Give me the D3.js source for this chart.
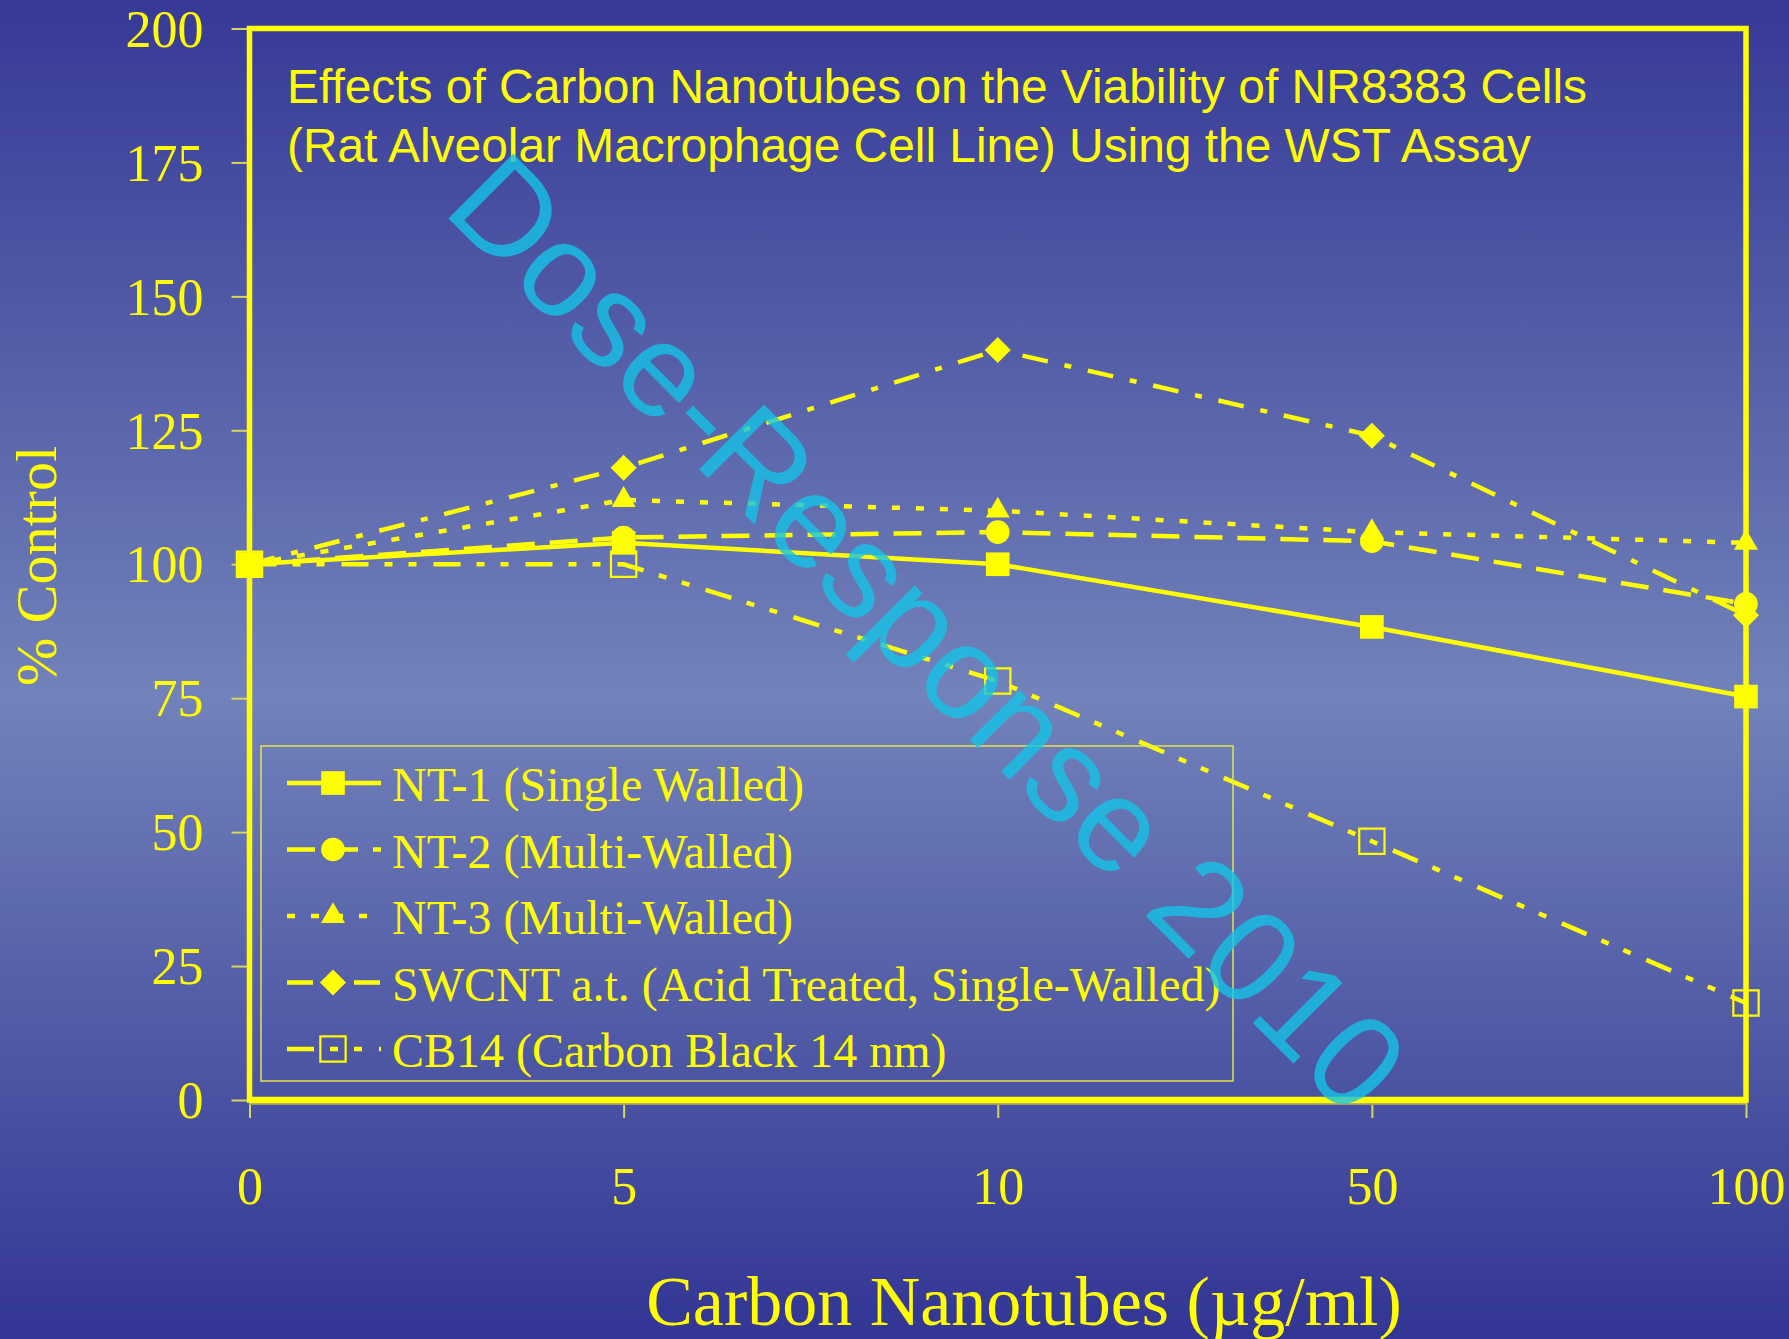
<!DOCTYPE html>
<html>
<head>
<meta charset="utf-8">
<script src="https://cdn.jsdelivr.net/npm/d3@7"></script>
<style>
    html, body { margin: 0; padding: 0; background: #35399a; }
    svg { display: block; }
</style>
</head>
<body>
<script>
// Dose levels (categorical x axis)
var doses = ["0", "5", "10", "50", "100"];
var yTicks = [0, 25, 50, 75, 100, 125, 150, 175, 200];

// % control values
var nt1   = [100, 104, 100, 88.3, 75.3];
var nt2   = [100, 105, 106, 104.3, 92.6];
var nt3   = [100, 112, 110, 106, 104];
var swcnt = [100, 118, 140, 124, 90.5];
var cb14  = [100, 100, 78.2, 48.3, 18.1];

var seriesNames = [
    "NT-1 (Single Walled)",
    "NT-2 (Multi-Walled)",
    "NT-3 (Multi-Walled)",
    "SWCNT a.t. (Acid Treated, Single-Walled)",
    "CB14 (Carbon Black 14 nm)"
];

var titleLines = [
    "Effects of Carbon Nanotubes on the Viability of NR8383 Cells",
    "(Rat Alveolar Macrophage Cell Line) Using the WST Assay"
];

function init(){
    var w = 1789;
    var h = 1339;
    var yellow = "#ffff00";
    var serif = "'Liberation Serif', 'Times New Roman', serif";
    var sans = "'Liberation Sans', Arial, sans-serif";

    var svg = d3.select("body")
                .append("svg")
                .attr("width", w)
                .attr("height", h);

    // background gradient (dark - light - dark)
    var grad = svg.append("defs").append("linearGradient")
                .attr("id", "bg")
                .attr("x1", 0).attr("y1", 0).attr("x2", 0).attr("y2", 1);
    grad.append("stop").attr("offset", "0%").attr("stop-color", "#363996");
    grad.append("stop").attr("offset", "52%").attr("stop-color", "#7282ba");
    grad.append("stop").attr("offset", "100%").attr("stop-color", "#323594");

    svg.append("rect")
        .attr("width", w)
        .attr("height", h)
        .attr("fill", "url(#bg)");

    // plot area
    var left = 249.5, right = 1746, top = 28.5, bottom = 1100;

    var x = d3.scalePoint()
                .domain(doses)
                .range([left, right]);

    var y = d3.scaleLinear()
                .domain([0, 200])
                .range([bottom, top]);

    // y axis ticks + labels
    var yAxis = d3.axisLeft(y)
                .tickValues(yTicks)
                .tickSize(18)
                .tickPadding(28);
    var gy = svg.append("g")
                .attr("transform", "translate(" + left + ",0)")
                .call(yAxis);
    gy.select(".domain").remove();
    gy.selectAll(".tick line").attr("stroke", "#d6d65a").attr("stroke-width", 2);
    gy.selectAll(".tick text")
        .attr("fill", yellow)
        .attr("dy", "0.34em")
        .style("font-family", serif)
        .style("font-size", "52px");

    // x axis ticks + labels
    var xAxis = d3.axisBottom(x)
                .tickSize(18)
                .tickPadding(50);
    var gx = svg.append("g")
                .attr("transform", "translate(0," + bottom + ")")
                .call(xAxis);
    gx.select(".domain").remove();
    gx.selectAll(".tick line").attr("stroke", "#d6d65a").attr("stroke-width", 2);
    gx.selectAll(".tick text")
        .attr("fill", yellow)
        .attr("dy", "0.7em")
        .style("font-family", serif)
        .style("font-size", "52px");

    // frame round the plot
    svg.append("rect")
        .attr("x", left)
        .attr("y", top)
        .attr("width", right - left)
        .attr("height", bottom - top)
        .attr("fill", "none")
        .attr("stroke", yellow)
        .attr("stroke-width", 5.5);
    svg.append("line")
        .attr("x1", left).attr("x2", right)
        .attr("y1", bottom + 4).attr("y2", bottom + 4)
        .attr("stroke", "#9a9a70")
        .attr("stroke-width", 2);
    svg.append("line")
        .attr("x1", left).attr("x2", right)
        .attr("y1", bottom).attr("y2", bottom)
        .attr("stroke", yellow)
        .attr("stroke-width", 6.5);

    // axis titles
    svg.append("text")
        .attr("x", 1024)
        .attr("y", 1325)
        .attr("text-anchor", "middle")
        .attr("fill", yellow)
        .style("font-family", serif)
        .style("font-size", "70px")
        .text("Carbon Nanotubes (\u00b5g/ml)");

    svg.append("text")
        .attr("transform", "translate(56,566) rotate(-90)")
        .attr("text-anchor", "middle")
        .attr("fill", yellow)
        .style("font-family", serif)
        .style("font-size", "58px")
        .text("% Control");

    // title inside the plot
    svg.selectAll(".title")
        .data(titleLines)
        .enter()
        .append("text")
        .attr("class", "title")
        .attr("x", 287)
        .attr("y", function(d, i){ return 103 + i * 59; })
        .attr("textLength", function(d, i){ return i == 0 ? 1300 : 1244; })
        .attr("lengthAdjust", "spacingAndGlyphs")
        .attr("fill", yellow)
        .style("font-family", sans)
        .style("font-size", "48px")
        .text(function(d){ return d; });

    // series setup
    var series = [
        {name: seriesNames[0], values: nt1,   dash: null,                 sym: d3.symbolSquare,   size: 560, rot: 0,  open: false},
        {name: seriesNames[1], values: nt2,   dash: "28,15",              sym: d3.symbolCircle,   size: 440, rot: 0,  open: false},
        {name: seriesNames[2], values: nt3,   dash: "8,16",               sym: d3.symbolTriangle, size: 250, rot: 0,  open: false},
        {name: seriesNames[3], values: swcnt, dash: "26,17,7,17",         sym: d3.symbolSquare,   size: 340, rot: 45, open: false},
        {name: seriesNames[4], values: cb14,  dash: "27,16,8,16,8,17",    sym: d3.symbolSquare,   size: 640, rot: 0,  open: true}
    ];

    var line = d3.line()
                .x(function(d, i){ return x(doses[i]); })
                .y(function(d){ return y(d); });

    // draw lines (CB14 first so the filled ones sit on top)
    var order = [4, 3, 2, 1, 0];
    order.forEach(function(k){
        var s = series[k];
        svg.append("path")
            .datum(s.values)
            .attr("d", line)
            .attr("fill", "none")
            .attr("stroke", yellow)
            .attr("stroke-width", 4.5)
            .attr("stroke-dasharray", s.dash);
    });

    order.forEach(function(k){
        var s = series[k];
        svg.selectAll(".m" + k)
            .data(s.values)
            .enter()
            .append("path")
            .attr("class", "m" + k)
            .attr("d", d3.symbol().type(s.sym).size(s.size))
            .attr("transform", function(d, i){
                return "translate(" + x(doses[i]) + "," + y(d) + ") rotate(" + s.rot + ")";
            })
            .attr("fill", s.open ? "none" : yellow)
            .attr("stroke", yellow)
            .attr("stroke-width", s.open ? 2.2 : 0);
    });

    // legend
    var lg = svg.append("g");
    lg.append("rect")
        .attr("x", 261)
        .attr("y", 746)
        .attr("width", 972)
        .attr("height", 335)
        .attr("fill", "none")
        .attr("stroke", "#e4e44a")
        .attr("stroke-width", 1.5);

    var rows = lg.selectAll(".row")
                .data(series)
                .enter()
                .append("g")
                .attr("class", "row")
                .attr("transform", function(d, i){ return "translate(0," + (783 + i * 66.5) + ")"; });

    rows.append("line")
        .attr("x1", 287)
        .attr("x2", 381)
        .attr("stroke", yellow)
        .attr("stroke-width", 4.5)
        .attr("stroke-dasharray", function(d){ return d.dash; });

    rows.append("path")
        .attr("d", function(d){ return d3.symbol().type(d.sym).size(d.size)(); })
        .attr("transform", function(d){ return "translate(333,0) rotate(" + d.rot + ")"; })
        .attr("fill", function(d){ return d.open ? "none" : yellow; })
        .attr("stroke", yellow)
        .attr("stroke-width", function(d){ return d.open ? 2.2 : 0; });

    rows.append("text")
        .attr("x", 392)
        .attr("y", 18)
        .attr("fill", yellow)
        .style("font-family", serif)
        .style("font-size", "48px")
        .text(function(d){ return d.name; });

    // watermark
    svg.append("text")
        .attr("transform", "translate(928,633) rotate(45)")
        .attr("text-anchor", "middle")
        .attr("dominant-baseline", "central")
        .attr("fill", "rgb(20,195,230)")
        .attr("fill-opacity", 0.8)
        .style("font-family", sans)
        .style("font-size", "133px")
        .text("Dose-Response 2010");
}
window.onload = init;
</script>
</body>
</html>
